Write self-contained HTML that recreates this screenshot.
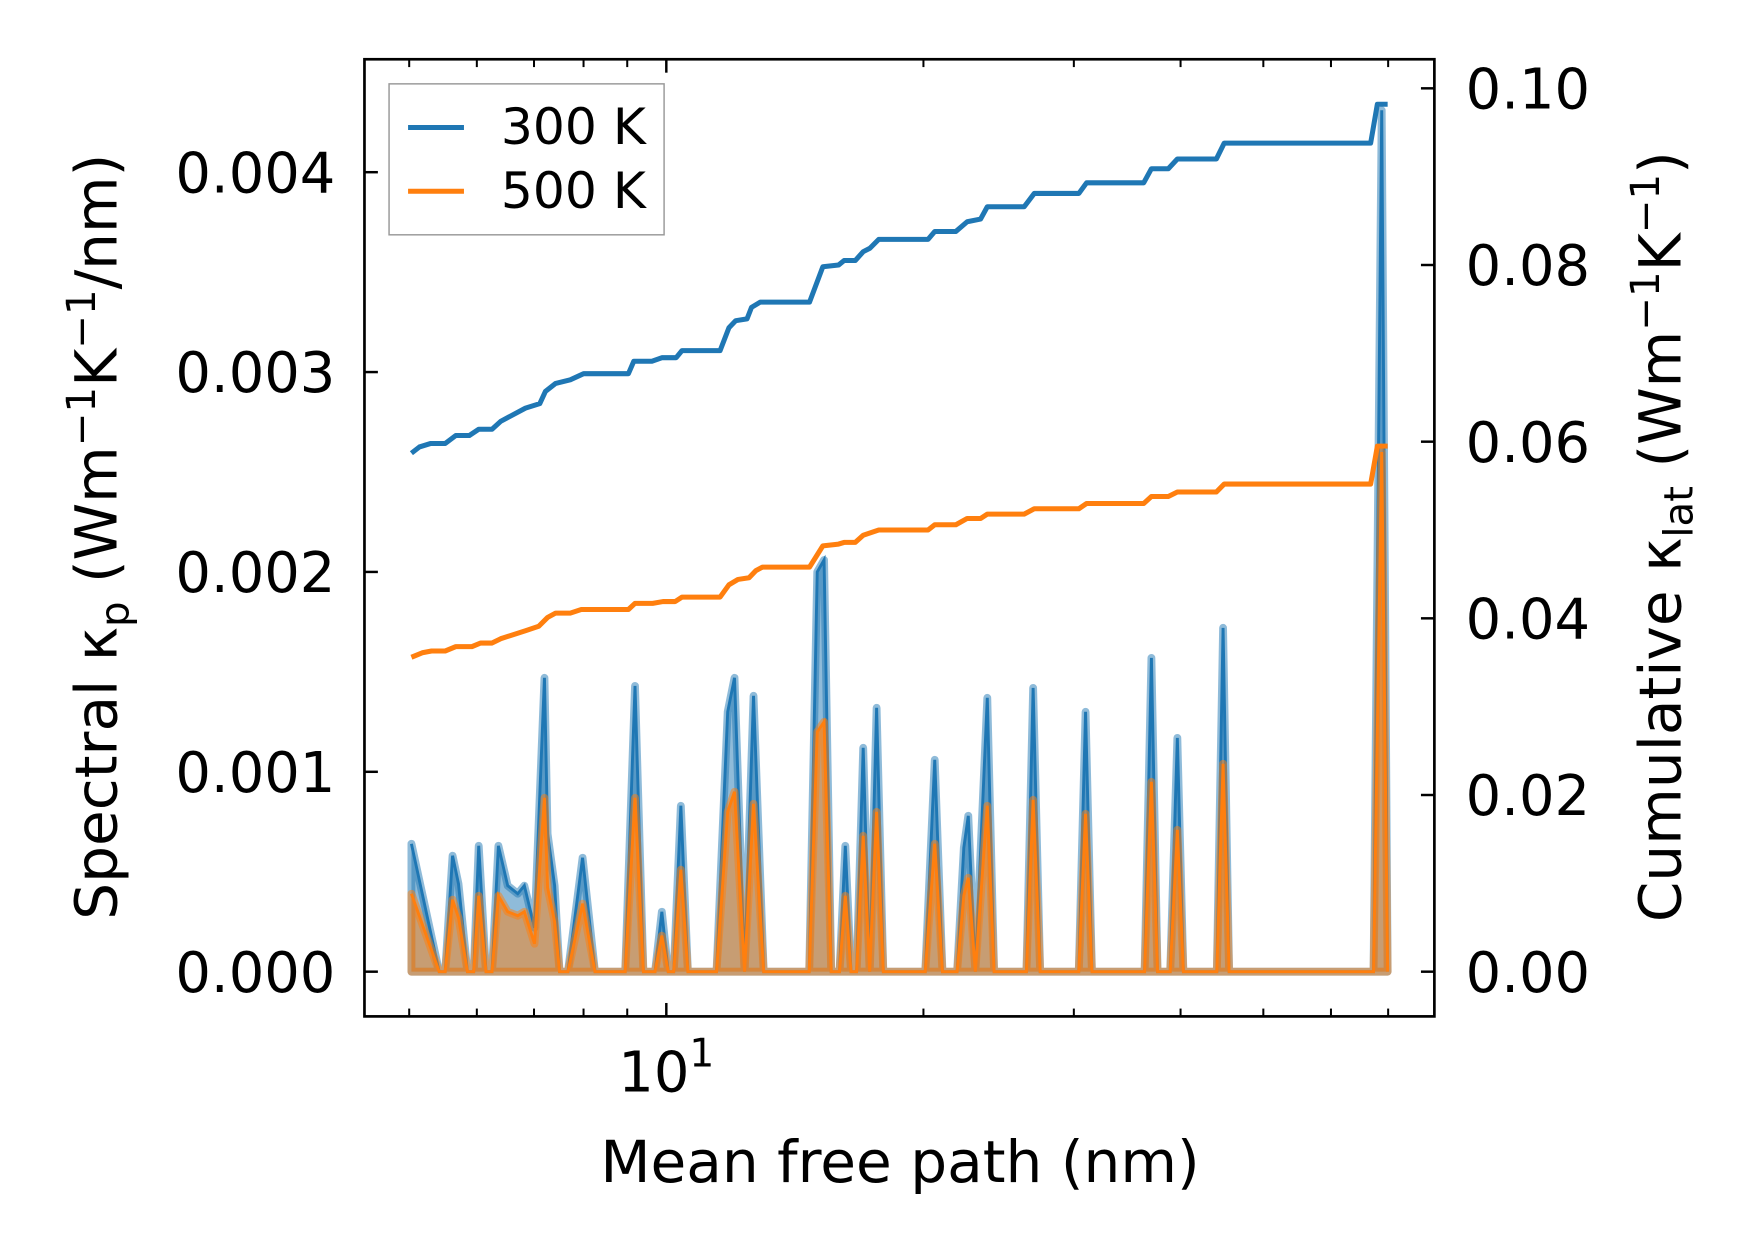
<!DOCTYPE html>
<html><head><meta charset="utf-8"><style>
html,body{margin:0;padding:0;background:#fff;}
svg{display:block;}
text{font-family:"DejaVu Sans","Liberation Sans",sans-serif;fill:#000;}
</style></head><body>
<svg id="chart" width="1753" height="1253" viewBox="0 0 1568 1120.6" preserveAspectRatio="none" xmlns="http://www.w3.org/2000/svg">
<rect x="-10" y="-10" width="1600" height="1140" fill="#fff"/>
<g id="marks"></g>
<rect x="326" y="53" width="957" height="856" fill="none" stroke="#000" stroke-width="2.4"/>
<g id="ticks"></g>
<g>
<rect x="348" y="75" width="246" height="135" fill="#fff" fill-opacity="0.8" stroke="#999" stroke-width="1.3"/>
<line x1="365" y1="114" x2="415" y2="114" stroke="#1f77b4" stroke-width="4.5"/>
<text x="448" y="129" font-size="45">300 K</text>
<line x1="365" y1="171" x2="415" y2="171" stroke="#ff7f0e" stroke-width="4.5"/>
<text x="448" y="186" font-size="45">500 K</text>
</g>
<text x="805" y="1057" font-size="52" text-anchor="middle">Mean free path (nm)</text>
<text transform="translate(104,480) rotate(-90)" font-size="52" text-anchor="middle">Spectral κ<tspan font-size="36" dy="11">p</tspan><tspan dy="-11"> (Wm</tspan><tspan font-size="36" dy="-19">−1</tspan><tspan dy="19">K</tspan><tspan font-size="36" dy="-19">−1</tspan><tspan dy="19">/nm)</tspan></text>
<text transform="translate(1503,480) rotate(-90)" font-size="52" text-anchor="middle">Cumulative κ<tspan font-size="36" dy="11">lat</tspan><tspan dy="-11"> (Wm</tspan><tspan font-size="36" dy="-19">−1</tspan><tspan dy="19">K</tspan><tspan font-size="36" dy="-19">−1</tspan><tspan dy="19">)</tspan></text>
</svg>
<script>
// Spectral data (mean free path in nm, spectral kappa in 1e-3 W/m/K/nm)
const specMfp = [5.03,5.42,5.51,5.62,5.71,5.85,5.95,6.03,6.15,6.25,6.36,6.52,6.70,6.82,7.01,7.20,7.26,7.40,7.50,7.67,7.98,8.25,8.95,9.19,9.40,9.70,9.88,10.05,10.2,10.40,10.6,11.45,11.80,12.02,12.35,12.65,13.0,14.7,15.02,15.30,15.6,15.95,16.20,16.45,16.7,17.0,17.3,17.63,17.95,20.1,20.62,21.05,21.9,22.30,22.57,23.0,23.76,24.2,26.4,26.88,27.4,30.4,30.96,31.5,36.3,36.98,37.6,38.9,39.65,40.3,44.1,44.86,45.6,67.3,68.8,69.9];
const spec300 = [0.64,0,0,0.58,0.44,0,0,0.63,0,0,0.63,0.43,0.39,0.43,0.22,1.47,0.69,0.43,0,0,0.57,0,0,1.43,0,0,0.30,0,0,0.83,0,0,1.30,1.47,0,1.38,0,0,2.0,2.06,0,0,0.63,0,0,1.12,0,1.32,0,0,1.06,0,0,0.62,0.78,0,1.37,0,0,1.42,0,0,1.30,0,0,1.57,0,0,1.17,0,0,1.72,0,0,4.31,0];
const spec500 = [0.39,0,0,0.36,0.27,0,0,0.38,0,0,0.38,0.30,0.28,0.30,0.14,0.87,0.42,0.25,0,0,0.34,0,0,0.87,0,0,0.18,0,0,0.51,0,0,0.80,0.90,0,0.84,0,0,1.2,1.25,0,0,0.38,0,0,0.68,0,0.80,0,0,0.64,0,0,0.38,0.47,0,0.83,0,0,0.86,0,0,0.79,0,0,0.95,0,0,0.71,0,0,1.04,0,0,2.6,0];
// Cumulative data (mfp nm, kappa W/m/K)
const cum300Mfp = [5.03,5.14,5.30,5.51,5.67,5.88,6.03,6.25,6.40,6.84,7.11,7.22,7.42,7.72,8.00,9.03,9.16,9.62,9.88,10.27,10.43,11.56,11.84,12.06,12.43,12.58,12.88,14.71,15.25,15.91,16.15,16.64,17.00,17.31,17.73,20.25,20.62,21.83,22.50,23.33,23.76,26.24,26.96,30.41,31.05,36.22,36.98,38.70,39.65,44.06,44.99,66.77,68.0,69.9];
const cum300 = [0.0587,0.0594,0.0598,0.0598,0.0607,0.0607,0.0614,0.0614,0.0623,0.0638,0.0643,0.0657,0.0666,0.0670,0.0677,0.0677,0.0691,0.0691,0.0695,0.0695,0.0703,0.0703,0.0729,0.0737,0.0739,0.0752,0.0758,0.0758,0.0798,0.0800,0.0805,0.0805,0.0815,0.0819,0.0829,0.0829,0.0838,0.0838,0.0849,0.0852,0.0866,0.0866,0.0881,0.0881,0.0893,0.0893,0.0909,0.0909,0.0920,0.0920,0.0938,0.0938,0.0982,0.0982];
const cum500Mfp = [5.03,5.18,5.31,5.51,5.67,5.92,6.06,6.25,6.40,6.84,7.09,7.26,7.42,7.72,7.95,9.03,9.19,9.64,9.91,10.24,10.43,11.56,11.84,12.13,12.50,12.73,12.96,14.71,15.25,15.91,16.15,16.64,17.00,17.73,20.25,20.62,21.83,22.50,23.33,23.76,26.24,26.96,30.41,31.05,36.22,36.98,38.70,39.65,44.06,44.99,66.77,68.0,69.9];
const cum500 = [0.0356,0.0361,0.0363,0.0363,0.0368,0.0368,0.0372,0.0372,0.0377,0.0386,0.0391,0.0401,0.0406,0.0406,0.0410,0.0410,0.0417,0.0417,0.0419,0.0419,0.0424,0.0424,0.0438,0.0444,0.0446,0.0454,0.0458,0.0458,0.0482,0.0484,0.0486,0.0486,0.0494,0.0500,0.0500,0.0506,0.0506,0.0513,0.0513,0.0518,0.0518,0.0524,0.0524,0.0530,0.0530,0.0538,0.0538,0.0543,0.0543,0.0552,0.0552,0.0595,0.0595];
const leftTicks = [0,0.001,0.002,0.003,0.004];
const leftTickLabels = ["0.000","0.001","0.002","0.003","0.004"];
const rightTicks = [0,0.02,0.04,0.06,0.08,0.10];
const rightTickLabels = ["0.00","0.02","0.04","0.06","0.08","0.10"];
const minorXTicks = [5,6,7,8,9,20,30,40,50,60,70];

const NS = "http://www.w3.org/2000/svg";
function xS(m){ return 596 + 764*(Math.log10(m)-1); }
function yL(v){ return 869 - v*178.75; }
function yLabs(v){ return 869 - v/0.001*178.75; }
function yR(k){ return 869 - k/0.02*158; }
function mk(tag, attrs, parent){
  const e = document.createElementNS(NS, tag);
  for (const k in attrs) e.setAttribute(k, attrs[k]);
  parent.appendChild(e); return e;
}
const marks = document.getElementById('marks');
const ticks = document.getElementById('ticks');

function drawSpec(vals, color, name){
  const pts = specMfp.map((m,i)=>xS(m).toFixed(1)+","+yL(vals[i]).toFixed(1));
  const poly = pts.concat([xS(specMfp[specMfp.length-1]).toFixed(1)+","+yL(0), xS(specMfp[0]).toFixed(1)+","+yL(0)]).join(" ");
  const f = mk('polygon',{points:poly, fill:color, 'fill-opacity':0.5, stroke:color, 'stroke-opacity':0.5, 'stroke-width':7, 'stroke-linejoin':'round'}, marks);
  
  
  const l = mk('polyline',{points:pts.join(" "), fill:'none', stroke:color, 'stroke-width':2.6}, marks);
  
  
}
drawSpec(spec300, '#1f77b4', 'spectral-300k');
drawSpec(spec500, '#ff7f0e', 'spectral-500k');

function drawCum(ms, ks, color, name){
  const pts = ms.map((m,i)=>xS(m).toFixed(1)+","+yR(ks[i]).toFixed(1)).join(" ");
  const l = mk('polyline',{points:pts, fill:'none', stroke:color, 'stroke-width':4.5, 'stroke-linejoin':'round'}, marks);
  
  
}
drawCum(cum300Mfp, cum300, '#1f77b4', 'cumulative-300k');
drawCum(cum500Mfp, cum500, '#ff7f0e', 'cumulative-500k');

leftTicks.forEach((v,i)=>{
  const y = yLabs(v);
  const t = mk('line',{x1:326,y1:y,x2:338,y2:y,stroke:'#000','stroke-width':2.2}, ticks);
  
  
  const tx = mk('text',{x:300,y:y+18,'font-size':50,'text-anchor':'end'}, ticks);
  tx.textContent = leftTickLabels[i];
  
  
});
rightTicks.forEach((v,i)=>{
  const y = yR(v);
  const t = mk('line',{x1:1271,y1:y,x2:1283,y2:y,stroke:'#000','stroke-width':2.2}, ticks);
  
  
  const tx = mk('text',{x:1311,y:y+18,'font-size':50,'text-anchor':'start'}, ticks);
  tx.textContent = rightTickLabels[i];
  
  
});
minorXTicks.forEach(m=>{
  const x = xS(m);
  if (x < 326 || x > 1283) return;
  const b = mk('line',{x1:x,y1:909,x2:x,y2:902,stroke:'#000','stroke-width':1.8}, ticks);
  
  
  const t = mk('line',{x1:x,y1:53,x2:x,y2:60,stroke:'#000','stroke-width':1.8}, ticks);
  
  
});
(function(){
  const x = xS(10);
  const b = mk('line',{x1:x,y1:909,x2:x,y2:897,stroke:'#000','stroke-width':2.2}, ticks);
  
  
  const t = mk('line',{x1:x,y1:53,x2:x,y2:65,stroke:'#000','stroke-width':2.2}, ticks);
  
  
  const tx = mk('text',{x:x,y:976,'font-size':50,'text-anchor':'middle'}, ticks);
  tx.innerHTML = '10<tspan font-size="35" dy="-22">1</tspan>';
  
  
})();
</script>
</body></html>
